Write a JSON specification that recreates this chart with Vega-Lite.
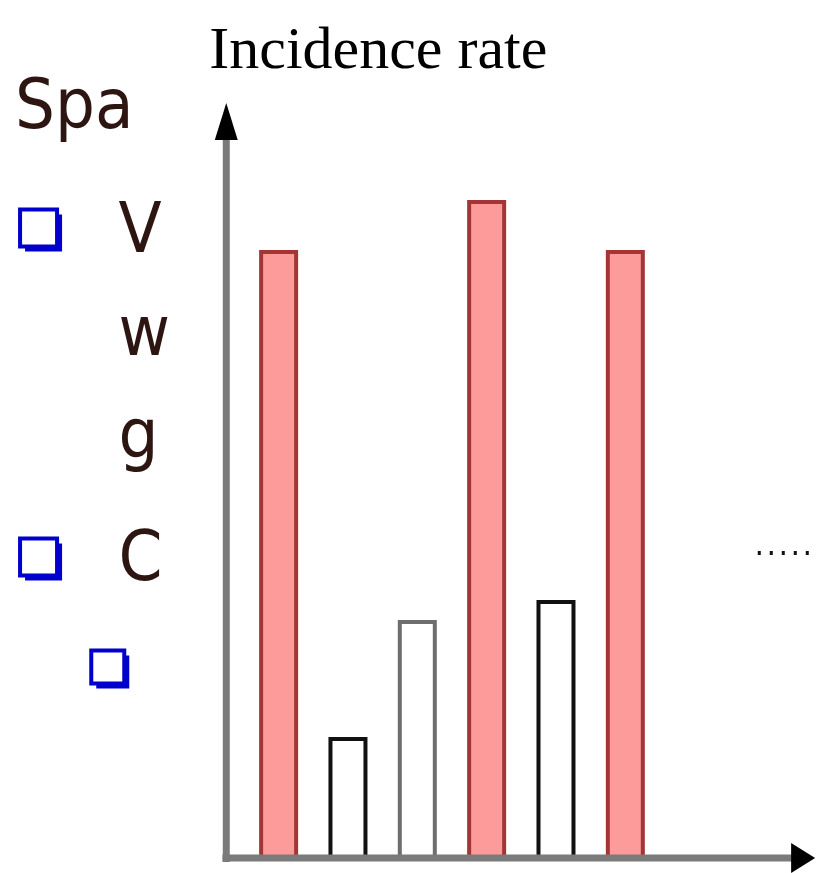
{
  "$schema": "https://vega.github.io/schema/vega-lite/v6.json",
  "width": 817,
  "height": 873,
  "autosize": {"type": "fit", "contains": "padding"},
  "padding": 0,
  "background": "white",
  "config": {"view": {"stroke": null}},
  "datasets": {
    "bars": [
      {"slot": 1, "rate": 6.06, "group": "high"},
      {"slot": 2, "rate": 1.19, "group": "low"},
      {"slot": 3, "rate": 2.36, "group": "mid"},
      {"slot": 4, "rate": 6.56, "group": "high"},
      {"slot": 5, "rate": 2.56, "group": "low"},
      {"slot": 6, "rate": 6.06, "group": "high"}
    ],
    "axes": [
      {"x": 0.19, "y": 0, "x2": 8.45, "y2": 0},
      {"x": 0.245, "y": -0.04, "x2": 0.245, "y2": 7.3}
    ],
    "arrowsUp": [{"x": 0.245, "y": 7.365}],
    "arrowsRight": [{"x": 8.564, "y": 0}],
    "dots": [{"x": 7.91, "y": 3.05, "x2": 8.7, "y2": 3.05}],
    "title": [{"x": 0.0, "y": 7.9, "label": "Incidence rate"}],
    "slide": [
      {"x": -2.803, "y": 7.3, "label": "Spa"},
      {"x": -1.308, "y": 6.06, "label": "V"},
      {"x": -1.308, "y": 5.03, "label": "w"},
      {"x": -1.308, "y": 4.0, "label": "g"},
      {"x": -1.308, "y": 2.78, "label": "C"}
    ],
    "bullets": [
      {"x": -2.462, "y": 6.3, "level": 1},
      {"x": -2.462, "y": 3.01, "level": 1},
      {"x": -1.464, "y": 1.91, "level": 2}
    ]
  },
  "encoding": {
    "x": {"field": "x", "type": "quantitative", "scale": {"domain": [-2.946, 8.692], "nice": false, "zero": false}, "axis": null},
    "y": {"field": "y", "type": "quantitative", "scale": {"domain": [-0.15, 8.58], "nice": false, "zero": false}, "axis": null}
  },
  "layer": [
    {
      "data": {"name": "bars"},
      "mark": {"type": "bar", "size": 35, "strokeWidth": 4},
      "encoding": {
        "x": {"field": "slot", "type": "quantitative"},
        "y": {"field": "rate", "type": "quantitative", "stack": null},
        "fill": {"field": "group", "type": "nominal", "scale": {"domain": ["high", "low", "mid"], "range": ["#fd9a9a", "#ffffff", "#ffffff"]}, "legend": null},
        "stroke": {"field": "group", "type": "nominal", "scale": {"domain": ["high", "low", "mid"], "range": ["#a33535", "#111111", "#6e6e6e"]}, "legend": null}
      }
    },
    {
      "data": {"name": "axes"},
      "mark": {"type": "rule", "color": "#7a7a7a", "strokeWidth": 7},
      "encoding": {
        "x2": {"field": "x2"},
        "y2": {"field": "y2"}
      }
    },
    {
      "data": {"name": "arrowsUp"},
      "mark": {"type": "point", "shape": "M0,-1L0.62,1L-0.62,1Z", "size": 1369, "filled": true, "color": "#000000", "opacity": 1},
      "encoding": {}
    },
    {
      "data": {"name": "arrowsRight"},
      "mark": {"type": "point", "shape": "M0.8,0L-0.8,-1L-0.8,1Z", "size": 900, "filled": true, "color": "#000000", "opacity": 1},
      "encoding": {}
    },
    {
      "data": {"name": "dots"},
      "mark": {"type": "rule", "color": "#111111", "strokeWidth": 4, "strokeDash": [3, 9]},
      "encoding": {
        "x2": {"field": "x2"},
        "y2": {"field": "y2"}
      }
    },
    {
      "data": {"name": "title"},
      "mark": {"type": "text", "align": "left", "baseline": "alphabetic", "font": "Liberation Serif", "fontSize": 60, "color": "#000000"},
      "encoding": {"text": {"field": "label"}}
    },
    {
      "data": {"name": "slide"},
      "mark": {"type": "text", "align": "left", "baseline": "alphabetic", "font": "DejaVu Sans Condensed, Liberation Sans Narrow, Liberation Sans", "fontSize": 70, "color": "#2d1512"},
      "encoding": {"text": {"field": "label"}}
    },
    {
      "data": {"name": "bullets"},
      "mark": {"type": "point", "shape": "square", "filled": true, "color": "#0000cc", "opacity": 1, "xOffset": 5, "yOffset": 5},
      "encoding": {
        "size": {"field": "level", "type": "quantitative", "scale": {"domain": [1, 2], "range": [1369, 1089]}, "legend": null}
      }
    },
    {
      "data": {"name": "bullets"},
      "mark": {"type": "point", "shape": "square", "filled": true, "fill": "#ffffff", "stroke": "#0000cc", "strokeWidth": 4, "opacity": 1},
      "encoding": {
        "size": {"field": "level", "type": "quantitative", "scale": {"domain": [1, 2], "range": [1024, 784]}, "legend": null}
      }
    }
  ]
}
